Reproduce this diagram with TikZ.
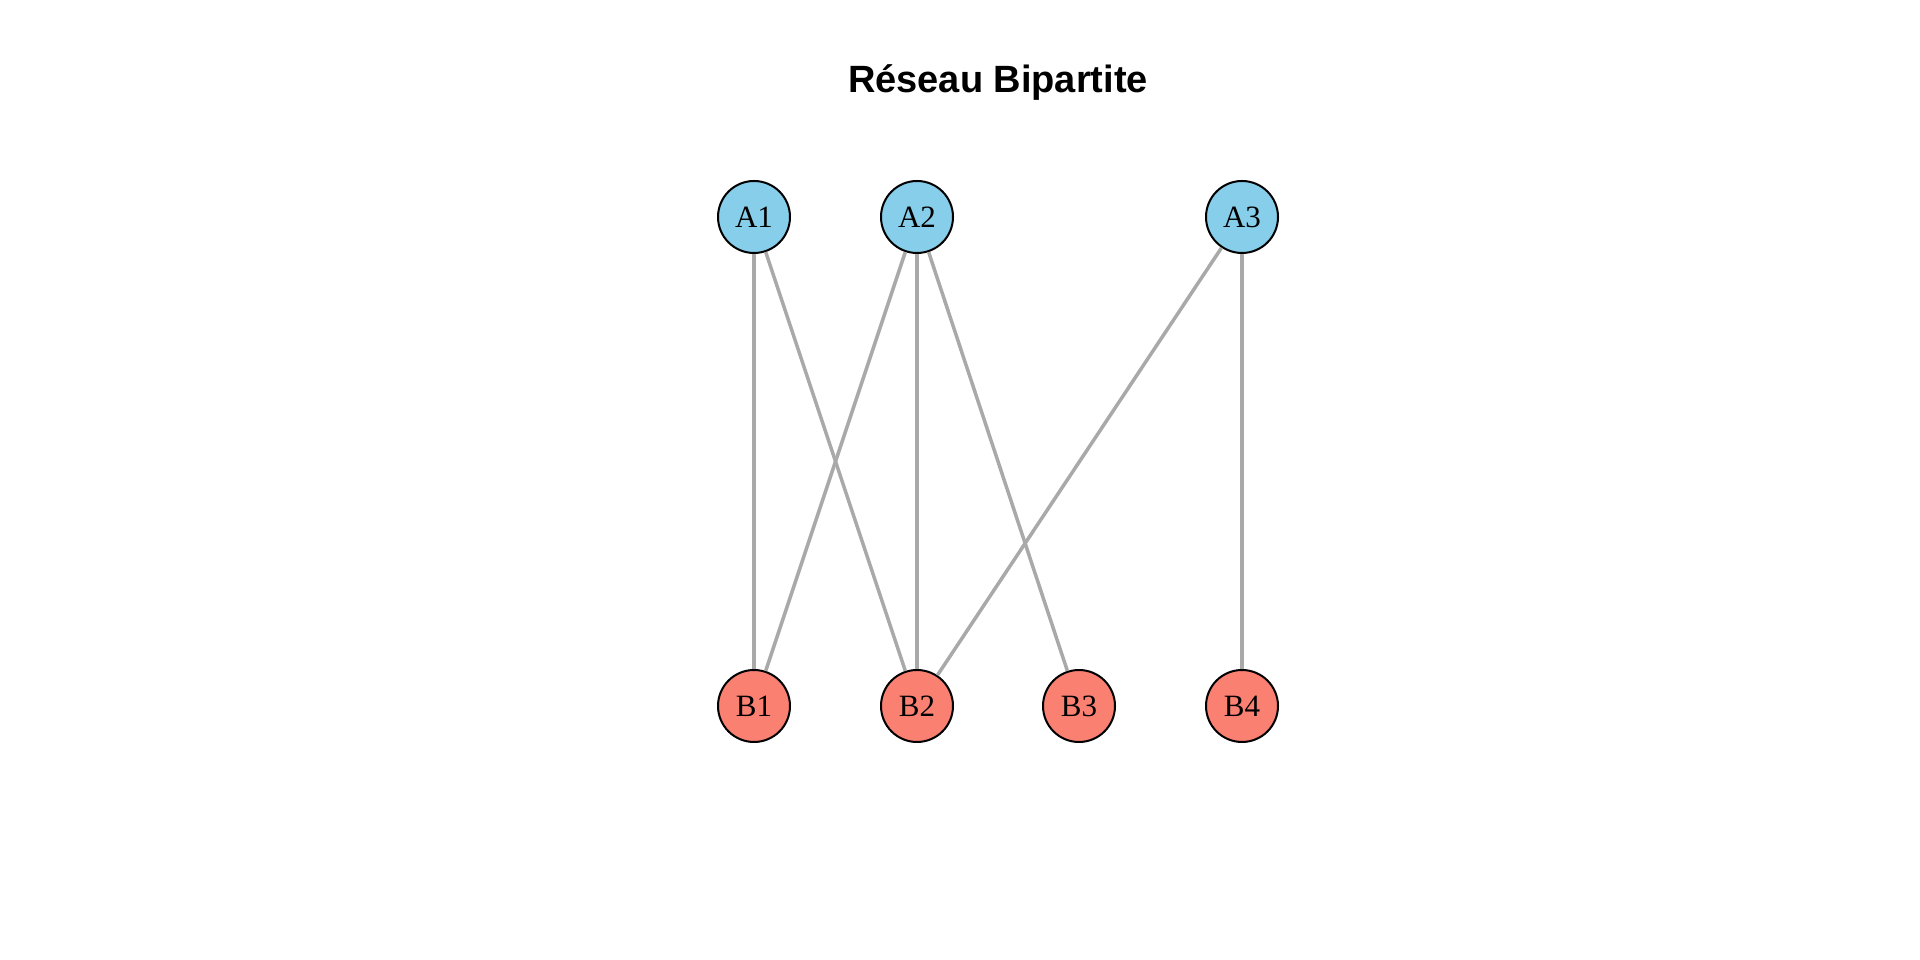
\documentclass[tikz,border=0pt]{standalone}
\usepackage{fontspec}
\setmainfont{Liberation Serif}
\newfontfamily\titlefont{Liberation Sans}
\definecolor{skyblue}{HTML}{87CEEB}
\definecolor{salmon}{HTML}{FA8072}
\definecolor{edgegray}{HTML}{A9A9A9}
\begin{document}
\begin{tikzpicture}[x=1pt, y=1pt, top node/.style={circle, draw, line width=2pt, fill=skyblue, minimum size=72pt, inner sep=0pt, font=\fontsize{31}{31}\selectfont}, bottom node/.style={top node, fill=salmon}]
            \tikzstyle{every edge}=[draw, edgegray, line width=3.5pt]
            \useasboundingbox (0,0) rectangle (1920,960);

              \node[font=\titlefont\bfseries\fontsize{38}{38}\selectfont] (title) at (998,877) {Réseau Bipartite};

              \node[top node] (A1) at (754,743) {A1};
              \node[top node] (A2) at (917,743) {A2};
              \node[top node] (A3) at (1242,743) {A3};
              \node[bottom node] (B1) at (754,254) {B1};
              \node[bottom node] (B2) at (917,254) {B2};
              \node[bottom node] (B3) at (1079,254) {B3};
              \node[bottom node] (B4) at (1242,254) {B4};

              \path
                (A1) edge (B1)
                     edge (B2)
                (A2) edge (B1)
                     edge (B2)
                     edge (B3)
                (A3) edge (B2)
                     edge (B4);

            \end{tikzpicture}
\end{document}
